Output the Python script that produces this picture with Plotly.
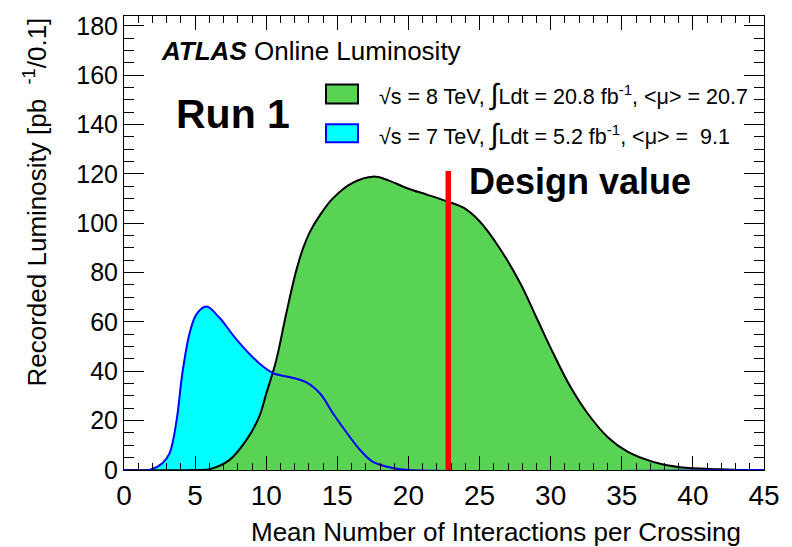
import plotly.graph_objects as go

# ---- data ----
mu_8tev = [0.0, 5.0, 6.0, 7.4, 8.6, 9.5, 10.0, 10.7, 11.4, 12.1, 12.6, 13.1, 13.8, 14.7, 16.1, 17.5,
           18.5, 19.9, 21.3, 22.7, 23.9, 25.0, 26.4, 27.9, 29.0, 30.2, 31.4, 32.6, 34.0,
           35.4, 37.2, 39.1, 41.9, 43.5, 45.0]
lumi_8tev = [0.0, 0.0, 0.3, 4.0, 12.1, 21.5, 30.9, 44.4, 63.2, 80.6, 90.0, 96.8, 103.5, 110.2, 116.5, 118.9,
             117.6, 114.2, 111.6, 108.9, 106.2, 100.8, 90.0, 75.3, 61.8, 47.1, 33.6, 22.9, 13.4,
             7.4, 3.3, 1.1, 0.3, 0.0, 0.0]

mu_7tev = [0.0, 1.8, 2.7, 3.2, 3.7, 4.1, 4.6, 5.1, 5.8, 6.7, 7.7, 8.6, 9.5, 10.5, 11.7,
           12.8, 13.8, 14.7, 15.7, 16.6, 17.5, 19.0, 20.0, 45.0]
lumi_7tev = [0.0, 0.0, 2.7, 6.7, 20.2, 39.0, 55.1, 63.2, 66.3, 61.8, 54.4, 48.4, 43.3, 39.2, 37.6,
             35.6, 30.9, 22.9, 14.8, 8.1, 3.3, 0.7, 0.0, 0.0]

design_mu = [22.8, 22.8]
design_lumi = [0.0, 121.2]

x_ticks = [0, 5, 10, 15, 20, 25, 30, 35, 40, 45]
y_ticks = [0, 20, 40, 60, 80, 100, 120, 140, 160, 180]

INT = "<span style='font-size:29px'>∫</span>"
legend_labels = [
    "√s = 8 TeV, " + INT + "Ldt = 20.8 fb<sup>-1</sup>, &lt;μ&gt; = 20.7",
    "√s = 7 TeV, " + INT + "Ldt = 5.2 fb<sup>-1</sup>, &lt;μ&gt; =  9.1",
]

GREEN = "#59D354"
CYAN = "#00FFFF"
FONT = "Liberation Sans, Arial, sans-serif"

W, H = 792, 547
L, R, T, B = 124, 28, 13, 77
PX0, PX1 = L, W - R
PY0, PY1 = H - B, T


def xp(px):
    return (px - PX0) / (PX1 - PX0)


def yp(py):
    return (PY0 - py) / (PY0 - PY1)


fig = go.Figure()

fig.add_trace(go.Scatter(x=mu_7tev, y=lumi_7tev, mode="lines", fill="tozeroy",
                         fillcolor=CYAN, line=dict(width=0, shape="spline", smoothing=1.0),
                         showlegend=False, hoverinfo="skip"))
fig.add_trace(go.Scatter(x=mu_8tev, y=lumi_8tev, mode="lines", fill="tozeroy",
                         fillcolor=GREEN, line=dict(color="black", width=2, shape="spline", smoothing=1.0),
                         showlegend=False))
fig.add_trace(go.Scatter(x=mu_7tev, y=lumi_7tev, mode="lines",
                         line=dict(color="#0000FF", width=2, shape="spline", smoothing=1.0),
                         showlegend=False))
fig.add_trace(go.Scatter(x=design_mu, y=design_lumi, mode="lines",
                         line=dict(color="#FF0000", width=5.5), showlegend=False))

axis_common = dict(showline=True, linecolor="black", linewidth=1, mirror="ticks",
                   ticks="inside", tickcolor="black", tickwidth=1, showgrid=False,
                   zeroline=False)

fig.update_xaxes(range=[0, 45], tickvals=x_ticks, ticklen=14,
                 tickfont=dict(family=FONT, size=28, color="black"),
                 minor=dict(ticks="inside", ticklen=7, dtick=1, tickcolor="black", showgrid=False),
                 **axis_common)
fig.update_yaxes(range=[0, 184], tickvals=y_ticks, ticklen=20,
                 tickfont=dict(family=FONT, size=25, color="black"),
                 minor=dict(ticks="inside", ticklen=10, dtick=5, tickcolor="black", showgrid=False),
                 **axis_common)

ann = []
ann.append(dict(text="Mean Number of Interactions per Crossing", x=xp(743), y=yp(532),
                xanchor="right", yanchor="middle", font=dict(size=26)))
ann.append(dict(text="Recorded Luminosity [pb&nbsp;&nbsp;<sup>-1</sup>/0.1]", x=xp(36), y=yp(13),
                xanchor="center", yanchor="top", textangle=-90, font=dict(size=26)))
ann.append(dict(text="<b><i>ATLAS</i></b> Online Luminosity", x=xp(159), y=yp(48),
                xanchor="left", yanchor="middle", font=dict(size=26)))
ann.append(dict(text="<b>Run 1</b>", x=xp(233), y=yp(112),
                xanchor="center", yanchor="middle", font=dict(size=41)))
ann.append(dict(text="<b>Design value</b>", x=xp(467), y=yp(180),
                xanchor="left", yanchor="middle", font=dict(size=36)))
ann.append(dict(text=legend_labels[0], x=xp(377), y=yp(92),
                xanchor="left", yanchor="middle", font=dict(size=21.5)))
ann.append(dict(text=legend_labels[1], x=xp(377), y=yp(132),
                xanchor="left", yanchor="middle", font=dict(size=21.5)))
for a in ann:
    a.update(xref="paper", yref="paper", showarrow=False)
    a["font"].update(family=FONT, color="black")

shapes = [
    dict(type="rect", xref="paper", yref="paper", x0=xp(326), x1=xp(358), y0=yp(101), y1=yp(82),
         fillcolor=GREEN, line=dict(color="black", width=2)),
    dict(type="rect", xref="paper", yref="paper", x0=xp(326), x1=xp(358), y0=yp(140), y1=yp(122),
         fillcolor=CYAN, line=dict(color="#0000FF", width=2)),
]

fig.update_layout(width=W, height=H, margin=dict(l=L, r=R, t=T, b=B),
                  paper_bgcolor="white", plot_bgcolor="white",
                  annotations=ann, shapes=shapes, showlegend=False,
                  font=dict(family=FONT, color="black"))

fig.write_html("out.html", config={"displayModeBar": False},
               post_script="document.body.style.margin='0';document.body.style.overflow='hidden';")
